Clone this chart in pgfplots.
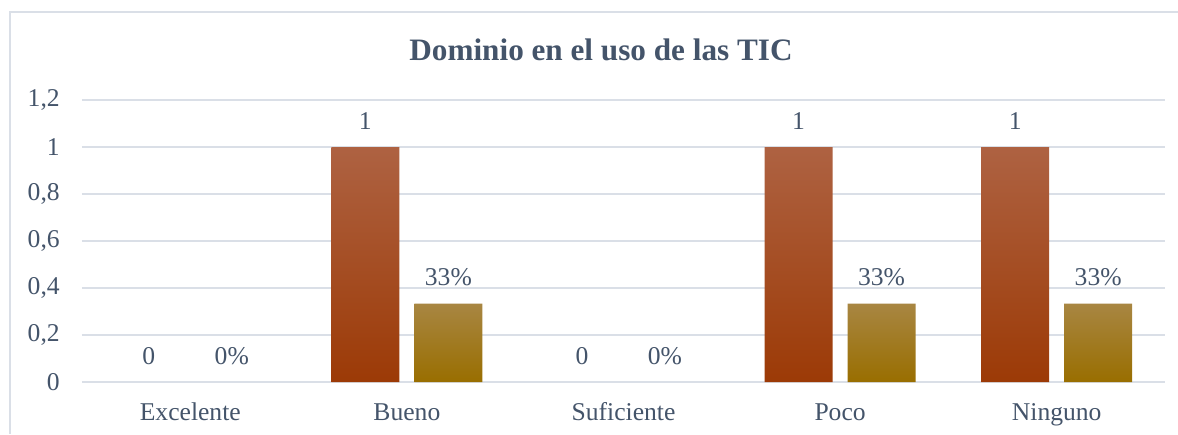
\documentclass[border=0pt]{standalone}
\usepackage{fontspec}
\setmainfont{Liberation Serif}
\usepackage{pgfplots}
\pgfplotsset{compat=1.18}
\definecolor{txt}{RGB}{68,84,106}
\definecolor{gridc}{RGB}{218,223,231}
\definecolor{brtop}{RGB}{174,98,66}
\definecolor{brbot}{RGB}{156,58,6}
\definecolor{gdtop}{RGB}{168,134,66}
\definecolor{gdbot}{RGB}{153,110,0}

\begin{document}
\begin{tikzpicture}
\useasboundingbox (-41pt,-26pt) rectangle (548pt,191pt);
\draw[gridc, line width=0.8pt] (-36pt,-26pt) -- (-36pt,185pt) -- (548pt,185pt);
\node[anchor=base, text=txt, font=\fontsize{15.6}{19}\selectfont\bfseries]
  at (259.5pt,160.6pt) {Dominio en el uso de las TIC};
\begin{axis}[
    at={(0pt,0pt)}, anchor=south west,
    scale only axis,
    width=541.5pt, height=141pt,
    xmin=-0.5, xmax=4.5,
    ymin=0, ymax=1.2,
    xtick={0,1,2,3,4},
    xticklabels={Excelente,Bueno,Suficiente,Poco,Ninguno},
    ytick={0,0.2,0.4,0.6,0.8,1,1.2},
    axis line style={draw=none},
    major tick length=0pt,
    ymajorgrids,
    grid style={gridc, line width=0.8pt},
    /pgf/number format/use comma,
    /pgf/number format/assume math mode=true,
    tick label style={font=\fontsize{12.8}{15}\selectfont, text=txt},
    yticklabel style={xshift=-7.6pt},
    xticklabel style={anchor=base, yshift=-19.3pt},
    every node near coord/.append style={font=\fontsize{12.8}{15}\selectfont,
        text=txt, inner sep=0pt, yshift=8.6pt},
    clip=false
]
  % bars
  \addplot[ybar, bar width=34pt, bar shift=-20.75pt, draw=none,
           top color=brtop, bottom color=brbot]
    coordinates {(1,1) (3,1) (4,1)};
  \addplot[ybar, bar width=34pt, bar shift=20.75pt, draw=none,
           top color=gdtop, bottom color=gdbot]
    coordinates {(1,0.3333) (3,0.3333) (4,0.3333)};
  % data labels
  \addplot[ybar, bar width=34pt, bar shift=-20.75pt, draw=none, fill=none,
           point meta=explicit symbolic, nodes near coords,
           every node near coord/.append style={xshift=-20.75pt}]
    coordinates {(0,0)[0] (1,1)[1] (2,0)[0] (3,1)[1] (4,1)[1]};
  \addplot[ybar, bar width=34pt, bar shift=20.75pt, draw=none, fill=none,
           point meta=explicit symbolic, nodes near coords,
           every node near coord/.append style={xshift=20.75pt}]
    coordinates {(0,0)[0\%] (1,0.3333)[33\%] (2,0)[0\%] (3,0.3333)[33\%] (4,0.3333)[33\%]};
\end{axis}
\end{tikzpicture}
\end{document}
